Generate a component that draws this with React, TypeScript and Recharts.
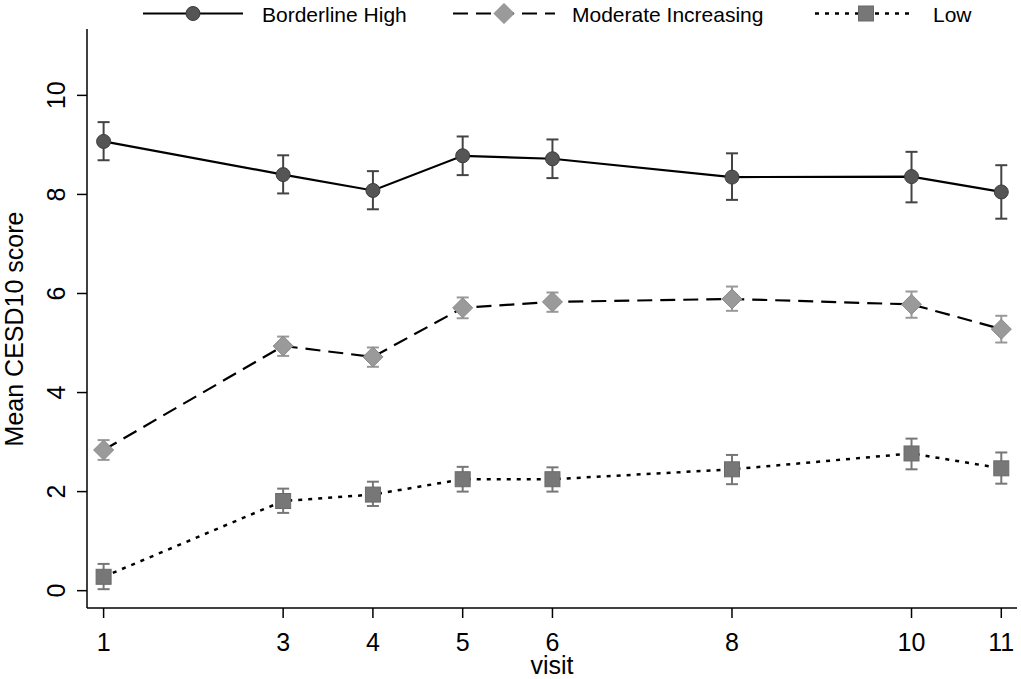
import React from "react";
import { ErrorBar, Line, LineChart, XAxis, YAxis } from "recharts";

const visits = [1, 3, 4, 5, 6, 8, 10, 11];
const seriesNames = ["Borderline High", "Moderate Increasing", "Low"];

const highMean = [9.07, 8.4, 8.08, 8.78, 8.72, 8.35, 8.36, 8.05];
const highLower = [8.69, 8.02, 7.7, 8.39, 8.33, 7.89, 7.84, 7.51];
const highUpper = [9.46, 8.79, 8.47, 9.17, 9.11, 8.83, 8.86, 8.59];

const moderateMean = [2.84, 4.94, 4.72, 5.71, 5.83, 5.89, 5.78, 5.28];
const moderateLower = [2.64, 4.74, 4.52, 5.5, 5.63, 5.65, 5.51, 5.01];
const moderateUpper = [3.04, 5.13, 4.91, 5.92, 6.02, 6.14, 6.04, 5.55];

const lowMean = [0.28, 1.81, 1.94, 2.25, 2.25, 2.45, 2.77, 2.47];
const lowLower = [0.03, 1.57, 1.71, 2.0, 2.0, 2.15, 2.45, 2.16];
const lowUpper = [0.54, 2.06, 2.2, 2.5, 2.49, 2.74, 3.07, 2.79];

const yTicks = [0, 2, 4, 6, 8, 10];

const FONT = "'Liberation Sans', Arial, sans-serif";

const rows = visits.map((visit, i) => ({
  visit,
  high: highMean[i],
  highErr: [highMean[i] - highLower[i], highUpper[i] - highMean[i]],
  moderate: moderateMean[i],
  moderateErr: [moderateMean[i] - moderateLower[i], moderateUpper[i] - moderateMean[i]],
  low: lowMean[i],
  lowErr: [lowMean[i] - lowLower[i], lowUpper[i] - lowMean[i]]
}));

const circleMark = (cx: number, cy: number, key?: string) => (
  <circle key={key} cx={cx} cy={cy} r={7} fill="#555555" stroke="#3c3c3c" strokeWidth={1} />
);
const diamondMark = (cx: number, cy: number, key?: string) => (
  <polygon
    key={key}
    points={`${cx},${cy - 10} ${cx + 10},${cy} ${cx},${cy + 10} ${cx - 10},${cy}`}
    fill="#9a9a9a"
    stroke="#8a8a8a"
    strokeWidth={1}
  />
);
const squareMark = (cx: number, cy: number, key?: string) => (
  <rect key={key} x={cx - 7.5} y={cy - 7.5} width={15} height={15} fill="#777777" stroke="#6a6a6a" strokeWidth={1} />
);

const XTick = (props: any) => {
  const { x, y, payload } = props;
  return (
    <text x={x} y={y + 33} textAnchor="middle" fontFamily={FONT} fontSize={25} fill="#000">
      {payload.value}
    </text>
  );
};

const YTick = (props: any) => {
  const { x, y, payload } = props;
  return (
    <text
      transform={`translate(${x - 12},${y}) rotate(-90)`}
      textAnchor="middle"
      fontFamily={FONT}
      fontSize={25}
      fill="#000"
    >
      {payload.value}
    </text>
  );
};

function LegendRow() {
  const items = [
    { name: seriesNames[0], x0: 143, x1: 243, mx: 193, tx: 262, dash: undefined, width: 2, mark: circleMark },
    { name: seriesNames[1], x0: 453, x1: 555, mx: 504, tx: 572, dash: "15 8", width: 2, mark: diamondMark },
    { name: seriesNames[2], x0: 815, x1: 913, mx: 866, tx: 933, dash: "4 6", width: 2.5, mark: squareMark }
  ];
  return (
    <svg
      width={1021}
      height={40}
      style={{ position: "absolute", left: 0, top: 0, pointerEvents: "none" }}
    >
      {items.map((item) => (
        <g key={item.name}>
          <line
            x1={item.x0}
            y1={13.5}
            x2={item.x1}
            y2={13.5}
            stroke="#000"
            strokeWidth={item.width}
            strokeDasharray={item.dash}
          />
          {item.mark(item.mx, 13.5)}
          <text x={item.tx} y={21.5} fontFamily={FONT} fontSize={21} fill="#000">
            {item.name}
          </text>
        </g>
      ))}
    </svg>
  );
}

export default function App() {
  return (
    <div style={{ position: "absolute", left: 0, top: 0, width: 1021, height: 679, background: "#fff" }}>
      <LineChart width={1021} height={679} data={rows} margin={{ top: 29, right: 4, bottom: 0, left: 0 }}>
        <XAxis
          dataKey="visit"
          type="number"
          domain={[0.815, 11.175]}
          allowDataOverflow
          ticks={visits}
          interval={0}
          height={71}
          tickSize={10}
          tickMargin={0}
          axisLine={{ stroke: "#000", strokeWidth: 1.5 }}
          tickLine={{ stroke: "#000", strokeWidth: 1.5 }}
          tick={XTick}
          label={{
            content: () => (
              <text x={552} y={674} textAnchor="middle" fontFamily={FONT} fontSize={25} fill="#000">
                visit
              </text>
            )
          }}
        />
        <YAxis
          type="number"
          domain={[-0.35, 11.34]}
          allowDataOverflow
          ticks={yTicks}
          interval={0}
          width={87}
          tickSize={10}
          tickMargin={0}
          axisLine={{ stroke: "#000", strokeWidth: 1.5 }}
          tickLine={{ stroke: "#000", strokeWidth: 1.5 }}
          tick={YTick}
          label={{
            content: () => (
              <text
                transform="translate(23,329) rotate(-90)"
                textAnchor="middle"
                fontFamily={FONT}
                fontSize={25}
                fill="#000"
              >
                Mean CESD10 score
              </text>
            )
          }}
        />
        <Line
          dataKey="low"
          name={seriesNames[2]}
          stroke="#000"
          strokeWidth={2.5}
          strokeDasharray="4 6"
          isAnimationActive={false}
          activeDot={false}
          dot={(p: any) => squareMark(p.cx, p.cy, `low-${p.index}`)}
        >
          <ErrorBar dataKey="lowErr" width={6} stroke="#777777" strokeWidth={2} isAnimationActive={false} />
        </Line>
        <Line
          dataKey="moderate"
          name={seriesNames[1]}
          stroke="#000"
          strokeWidth={2.2}
          strokeDasharray="15 8"
          isAnimationActive={false}
          activeDot={false}
          dot={(p: any) => diamondMark(p.cx, p.cy, `mod-${p.index}`)}
        >
          <ErrorBar dataKey="moderateErr" width={6} stroke="#999999" strokeWidth={2} isAnimationActive={false} />
        </Line>
        <Line
          dataKey="high"
          name={seriesNames[0]}
          stroke="#000"
          strokeWidth={2.2}
          isAnimationActive={false}
          activeDot={false}
          dot={(p: any) => circleMark(p.cx, p.cy, `high-${p.index}`)}
        >
          <ErrorBar dataKey="highErr" width={6} stroke="#444444" strokeWidth={2} isAnimationActive={false} />
        </Line>
      </LineChart>
      <LegendRow />
    </div>
  );
}
